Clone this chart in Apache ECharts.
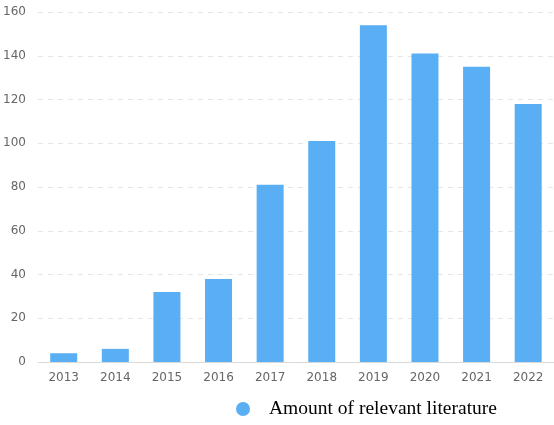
<!DOCTYPE html>
<html>
<head>
<meta charset="utf-8">
<script src="https://cdn.jsdelivr.net/npm/echarts@6/dist/echarts.min.js"></script>
<style>
  html, body { margin: 0; padding: 0; background: #fff; }
  #chart { width: 554px; height: 425px; }
</style>
</head>
<body>
<div id="chart"></div>
<script>
const years = ['2013', '2014', '2015', '2016', '2017', '2018', '2019', '2020', '2021', '2022']
const amounts = [4, 6, 32, 38, 81, 101, 154, 141, 135, 118]
const seriesName = 'Amount of relevant literature'

const myChart = echarts.init(document.getElementById('chart'))

const option = {
  animation: false,
  grid: {
    left: 37,
    right: -2,
    top: 12,
    bottom: 63,
  },
  legend: {
    show: true,
    icon: 'circle',
    left: 231,
    top: 394,
    itemWidth: 14,
    itemHeight: 14,
    itemGap: 10,
    textStyle: {
      fontFamily: 'Liberation Serif',
      fontSize: 19.5,
      color: '#000',
      padding: [12, 0, 0, 14],
    },
    data: [seriesName],
  },
  xAxis: {
    type: 'category',
    data: years,
    axisLine: { lineStyle: { color: '#d9d9d9' } },
    axisTick: { alignWithLabel: true, length: 4, lineStyle: { color: '#d9d9d9' } },
    axisLabel: {
      color: '#666',
      fontSize: 12,
      fontFamily: 'DejaVu Sans',
      margin: 10,
    },
  },
  yAxis: {
    type: 'value',
    min: 0,
    max: 160,
    interval: 20,
    axisLine: { show: false },
    axisTick: { show: false },
    axisLabel: {
      color: '#666',
      fontSize: 12,
      fontFamily: 'DejaVu Sans',
      margin: 12,
    },
    splitLine: {
      lineStyle: { type: [5, 5], color: '#e6e6e6' },
    },
  },
  series: [
    {
      name: seriesName,
      type: 'bar',
      data: amounts,
      barWidth: 27,
      itemStyle: { color: '#59aef4' },
    },
  ],
}
myChart.setOption(option)
</script>
</body>
</html>
